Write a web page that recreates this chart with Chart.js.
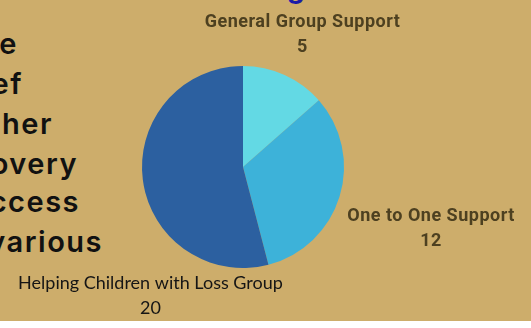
<!DOCTYPE html>
<html>
<head>
<meta charset="utf-8">
<script src="https://cdn.jsdelivr.net/npm/chart.js@4"></script>
<style>
  body { margin: 0; background: #fff; }
  #wrap { position: relative; width: 531px; height: 321px; background: #cdad6b; overflow: hidden; }
  #pie { position: absolute; left: 0; top: 0; }
  .frag { position: absolute; font-family: Inter, sans-serif; font-weight: 600; font-size: 29px;
          letter-spacing: 1.5px; color: #111; white-space: nowrap; line-height: 30px; text-align: right; }
  #title { position: absolute; left: 287px; top: -27px; font-family: Inter, sans-serif; font-weight: 700;
           font-size: 28px; color: #1b1ba6; line-height: 30px; }
</style>
</head>
<body>
<div id="wrap">
  <div id="title">g</div>
  <div class="frag" style="right:513px;top:29px">e</div>
  <div class="frag" style="right:508px;top:69px">ef</div>
  <div class="frag" style="right:478px;top:109px">her</div>
  <div class="frag" style="right:453px;top:149px">overy</div>
  <div class="frag" style="right:451px;top:187px">ccess</div>
  <div class="frag" style="right:428px;top:227px">various</div>
  <canvas id="pie" width="531" height="321"></canvas>
</div>
<script>
// Support sessions by type
const categories = ['General Group Support', 'One to One Support', 'Helping Children with Loss Group'];
const values = [5, 12, 20];
const sliceColors = ['#63d9e4', '#3db2d9', '#2c60a0'];

// labels outside the pie, two lines: name then value
const outerLabels = {
  id: 'outerLabels',
  afterDatasetsDraw(chart, args, opts) {
    const ctx = chart.ctx;
    const meta = chart.getDatasetMeta(0);
    meta.data.forEach((arc, i) => {
      const p = opts.place[i];
      const mid = (arc.startAngle + arc.endAngle) / 2 + p.turn * Math.PI / 180;
      const r = arc.outerRadius * p.dist;
      const x = arc.x + Math.cos(mid) * r;
      const y = arc.y + Math.sin(mid) * r;
      ctx.save();
      ctx.font = p.font;
      ctx.letterSpacing = p.spacing;
      ctx.fillStyle = p.color;
      ctx.textAlign = 'center';
      ctx.textBaseline = 'middle';
      ctx.fillText(chart.data.labels[i], x, y - opts.gap / 2);
      ctx.fillText(String(chart.data.datasets[0].data[i]), x, y + opts.gap / 2);
      ctx.restore();
    });
  }
};

new Chart(document.getElementById('pie').getContext('2d'), {
  type: 'pie',
  data: {
    labels: categories,
    datasets: [{
      data: values,
      backgroundColor: sliceColors,
      borderWidth: 0
    }]
  },
  options: {
    responsive: false,
    animation: false,
    layout: { padding: { left: 142, right: 187, top: 66, bottom: 53 } },
    plugins: {
      legend: { display: false },
      tooltip: { enabled: false },
      outerLabels: {
        gap: 25,
        place: [
          { dist: 1.43, turn: 0, font: 'bold 18px Roboto', spacing: '0.5px', color: '#4d4020' },
          { dist: 1.96, turn: 1.2, font: 'bold 18px Roboto', spacing: '0.5px', color: '#4d4020' },
          { dist: 1.57, turn: -47, font: '18px Lato', spacing: '0px', color: '#151515' }
        ]
      }
    }
  },
  plugins: [outerLabels]
});
</script>
</body>
</html>
